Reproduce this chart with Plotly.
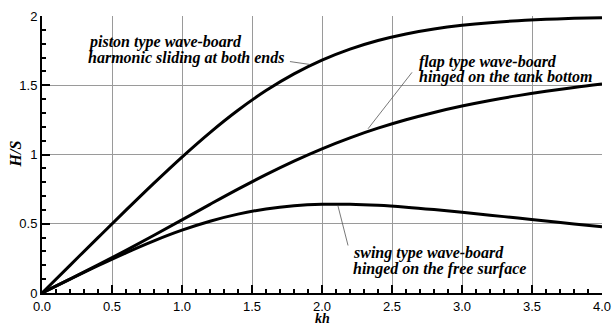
import plotly.graph_objects as go

kh = [0.0, 0.2, 0.4, 0.6, 0.8, 1.0, 1.2, 1.4, 1.6, 1.8, 2.0, 2.2, 2.4, 2.6, 2.8, 3.0, 3.2, 3.4, 3.6, 3.8, 4.0]
piston = [0.0, 0.1999, 0.3998, 0.5984, 0.7936, 0.9818, 1.1586, 1.3196, 1.4615, 1.5821, 1.6816,
          1.7612, 1.8233, 1.8707, 1.9063, 1.9327, 1.9519, 1.9658, 1.9758, 1.9829, 1.9880]
flap = [0.0, 0.1003, 0.2025, 0.3079, 0.4167, 0.5281, 0.6401, 0.7500, 0.8549, 0.9525, 1.0412,
        1.1204, 1.1900, 1.2507, 1.3035, 1.3495, 1.3897, 1.4250, 1.4562, 1.4839, 1.5089]
swing = [0.0, 0.0997, 0.1973, 0.2905, 0.3769, 0.4537, 0.5185, 0.5697, 0.6065, 0.6296, 0.6403,
         0.6408, 0.6333, 0.6200, 0.6028, 0.5831, 0.5622, 0.5408, 0.5196, 0.4990, 0.4791]

labels = [
    (0.32, 1.814, "piston type wave-board"),
    (0.32, 1.700, "harmonic sliding at both ends"),
    (2.686, 1.671, "flap type wave-board"),
    (2.686, 1.557, "hinged on the tank bottom"),
    (2.214, 0.286, "swing type wave-board"),
    (2.214, 0.171, "hinged on the free surface"),
]
leaders = [
    (1.771, 1.671, 1.914, 1.650),
    (2.643, 1.593, 2.329, 1.186),
    (2.186, 0.343, 2.114, 0.629),
]

fig = go.Figure()
for ys in (piston, flap, swing):
    fig.add_trace(go.Scatter(x=kh, y=ys, mode="lines", line=dict(color="black", width=3, shape="spline"),
                             showlegend=False, hoverinfo="skip"))

serif = "Times New Roman"
for x, y, t in labels:
    fig.add_annotation(x=x, y=y, xref="x", yref="y", text="<b><i>%s</i></b>" % t, showarrow=False,
                       xanchor="left", yanchor="middle", borderpad=0,
                       font=dict(family=serif, size=16, color="black"))
for x0, y0, x1, y1 in leaders:
    fig.add_shape(type="line", x0=x0, y0=y0, x1=x1, y1=y1, xref="x", yref="y",
                  line=dict(color="#555555", width=0.8))

fig.add_annotation(x=0.5, y=0, xref="paper", yref="paper", yshift=-34, text="<b><i>kh</i></b>",
                   showarrow=False, xanchor="center", yanchor="bottom", borderpad=0,
                   font=dict(family=serif, size=14, color="black"))
fig.add_annotation(x=0, y=0.5, xref="paper", yref="paper", xshift=-27, text="<b><i>H/S</i></b>",
                   textangle=-90, showarrow=False, xanchor="center", yanchor="middle",
                   font=dict(family=serif, size=16, color="black"))

axis_common = dict(showline=True, linecolor="black", linewidth=2, ticks="inside", ticklen=8,
                   tickwidth=1.5, tickcolor="black", showgrid=True, gridcolor="#9a9a9a", gridwidth=1,
                   zeroline=False, automargin=False, ticklabeloverflow="allow",
                   tickfont=dict(family="Liberation Sans", size=13, color="black"),
                   minor=dict(ticks="inside", ticklen=4, tickcolor="black", dtick=0.1, showgrid=False))
fig.update_xaxes(range=[0, 4], dtick=0.5, tickformat=".1f", **axis_common)
fig.update_yaxes(range=[0, 2], dtick=0.5, **axis_common)

fig.update_layout(width=612, height=327, margin=dict(l=42, r=10, t=16, b=34),
                  plot_bgcolor="white", paper_bgcolor="white")
fig.write_html("out.html")
